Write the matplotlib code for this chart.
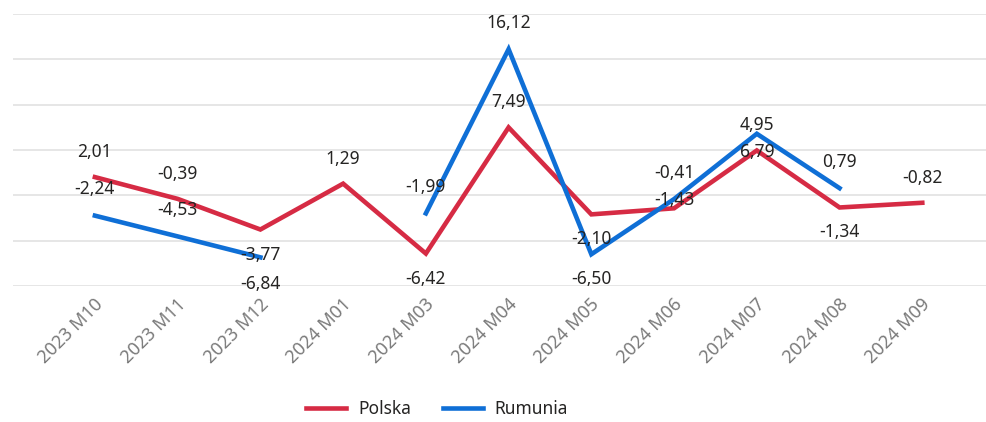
import matplotlib.pyplot as plt
import matplotlib.transforms as mtransforms
import numpy as np

# --- data ---
categories = ['2023 M10', '2023 M11', '2023 M12', '2024 M01', '2024 M03', '2024 M04',
              '2024 M05', '2024 M06', '2024 M07', '2024 M08', '2024 M09']
polska = [2.01, -0.39, -3.77, 1.29, -6.42, 7.49, -2.10, -1.43, 4.95, -1.34, -0.82]
rumunia = [-2.24, -4.53, -6.84, np.nan, -1.99, 16.12, -6.50, -0.41, 6.79, 0.79, np.nan]

# label offsets in points (positive = above the point)
polska_offsets = [18, 18, -18, 18, -18, 18, -18, 6, 18, -18, 18]
rumunia_offsets = [19, 19, -19, 0, 19, 19, -18, 19, -13, 19, 0]

red = '#D62B44'
blue = '#0F6FD6'
font = 'Noto Sans'

plt.rcParams['font.family'] = [font, 'DejaVu Sans']

fig = plt.figure(figsize=(9.87, 4.22), dpi=100)
ax = fig.add_axes([13 / 987, 1 - 286 / 422, 973 / 987, 272 / 422])

x = np.arange(len(categories))
ax.plot(x, polska, color=red, lw=3.3, solid_joinstyle='miter', label='Polska')
ax.plot(x, rumunia, color=blue, lw=3.3, solid_joinstyle='miter', label='Rumunia')


def fmt(v):
    return f'{v:.2f}'.replace('.', ',')


for series, offsets in ((polska, polska_offsets), (rumunia, rumunia_offsets)):
    for xi, v, off in zip(x, series, offsets):
        if np.isnan(v):
            continue
        ax.annotate(fmt(v), (xi, v), xytext=(0, off), textcoords='offset points',
                    ha='center', va='center', fontsize=12.5, color='#252423')

ax.set_ylim(-10, 20)
ax.set_yticks([-10, -5, 0, 5, 10, 15, 20])
ax.set_xlim(-0.99, 10.77)
ax.grid(axis='y', color='#E1E1E1', lw=1.2)
ax.set_axisbelow(True)
for s in ax.spines.values():
    s.set_visible(False)
ax.tick_params(axis='y', left=False, labelleft=False)
ax.tick_params(axis='x', bottom=False, pad=8)

ax.set_xticks(x)
ax.set_xticklabels(categories, rotation=45, ha='right', va='center',
                   rotation_mode='anchor', fontsize=13, color='#7A7A7A')
shift = mtransforms.ScaledTranslation(4 / 72, 0, fig.dpi_scale_trans)
for lbl in ax.get_xticklabels():
    lbl.set_transform(lbl.get_transform() + shift)

leg = fig.legend(loc='center', bbox_to_anchor=(0.443, 0.03), ncol=2, frameon=False,
                 fontsize=12.5, handlelength=2.3, columnspacing=1.8, handletextpad=0.7)
for t in leg.get_texts():
    t.set_color('#252423')

fig.savefig('out.png', dpi=100)
